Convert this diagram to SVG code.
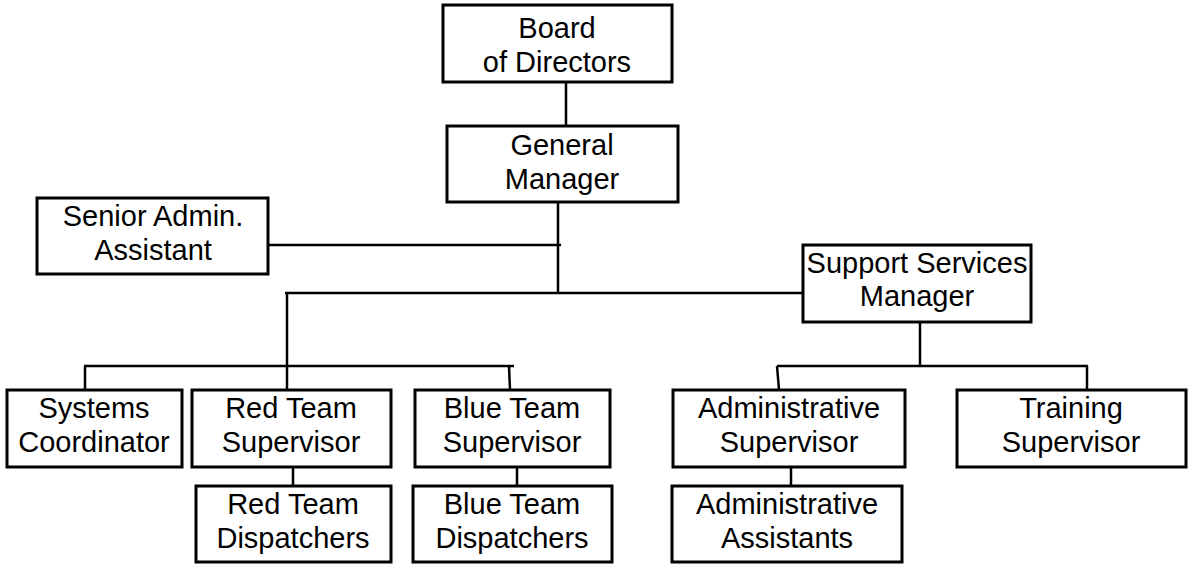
<svg xmlns="http://www.w3.org/2000/svg" width="1188" height="564" viewBox="0 0 1188 564">
<style>
rect{fill:#fff;stroke:#000;stroke-width:3}
text{font-family:"Liberation Sans",Arial,sans-serif;font-size:29px;fill:#000;text-anchor:middle}
#connectors line{stroke:#000;stroke-width:2.5}
</style>
<rect x="0" y="0" width="1188" height="564" style="stroke:none"/>
<g id="connectors">
<line x1="566" y1="82" x2="566" y2="126"/>
<line x1="558" y1="202" x2="558" y2="293"/>
<line x1="268" y1="245" x2="561" y2="245"/>
<line x1="285" y1="293" x2="803" y2="293"/>
<line x1="287" y1="293" x2="287" y2="390"/>
<line x1="84" y1="366" x2="514" y2="366"/>
<line x1="85" y1="366" x2="85" y2="390"/>
<line x1="509" y1="366" x2="510" y2="390"/>
<line x1="293" y1="467" x2="293" y2="486"/>
<line x1="517" y1="467" x2="517" y2="486"/>
<line x1="920" y1="322" x2="920" y2="366"/>
<line x1="777" y1="366" x2="1088" y2="366"/>
<line x1="777" y1="366" x2="779" y2="390"/>
<line x1="1087" y1="366" x2="1087" y2="390"/>
<line x1="791" y1="467" x2="791" y2="486"/>
</g>
<g id="board"><rect x="443" y="5" width="229" height="77"/><text x="557" y="38">Board</text><text x="557" y="72">of Directors</text></g>
<g id="gm"><rect x="447" y="126" width="231" height="76"/><text x="562" y="155">General</text><text x="562" y="189">Manager</text></g>
<g id="senior"><rect x="37" y="198" width="231" height="76"/><text x="153" y="226">Senior Admin.</text><text x="153" y="260">Assistant</text></g>
<g id="ssm"><rect x="803" y="245" width="228" height="77"/><text x="917" y="273">Support Services</text><text x="917" y="306">Manager</text></g>
<g id="systems"><rect x="7" y="390" width="175" height="77"/><text x="94" y="418">Systems</text><text x="94" y="452">Coordinator</text></g>
<g id="redsup"><rect x="192" y="390" width="199" height="77"/><text x="291" y="418">Red Team</text><text x="291" y="452">Supervisor</text></g>
<g id="bluesup"><rect x="415" y="390" width="195" height="77"/><text x="512" y="418">Blue Team</text><text x="512" y="452">Supervisor</text></g>
<g id="reddisp"><rect x="196" y="486" width="195" height="76"/><text x="293" y="514">Red Team</text><text x="293" y="548">Dispatchers</text></g>
<g id="bluedisp"><rect x="413" y="486" width="199" height="76"/><text x="512" y="514">Blue Team</text><text x="512" y="548">Dispatchers</text></g>
<g id="adminsup"><rect x="673" y="390" width="232" height="77"/><text x="789" y="418">Administrative</text><text x="789" y="452">Supervisor</text></g>
<g id="training"><rect x="957" y="390" width="229" height="77"/><text x="1071" y="418">Training</text><text x="1071" y="452">Supervisor</text></g>
<g id="adminasst"><rect x="672" y="486" width="230" height="76"/><text x="787" y="514">Administrative</text><text x="787" y="548">Assistants</text></g>
</svg>
